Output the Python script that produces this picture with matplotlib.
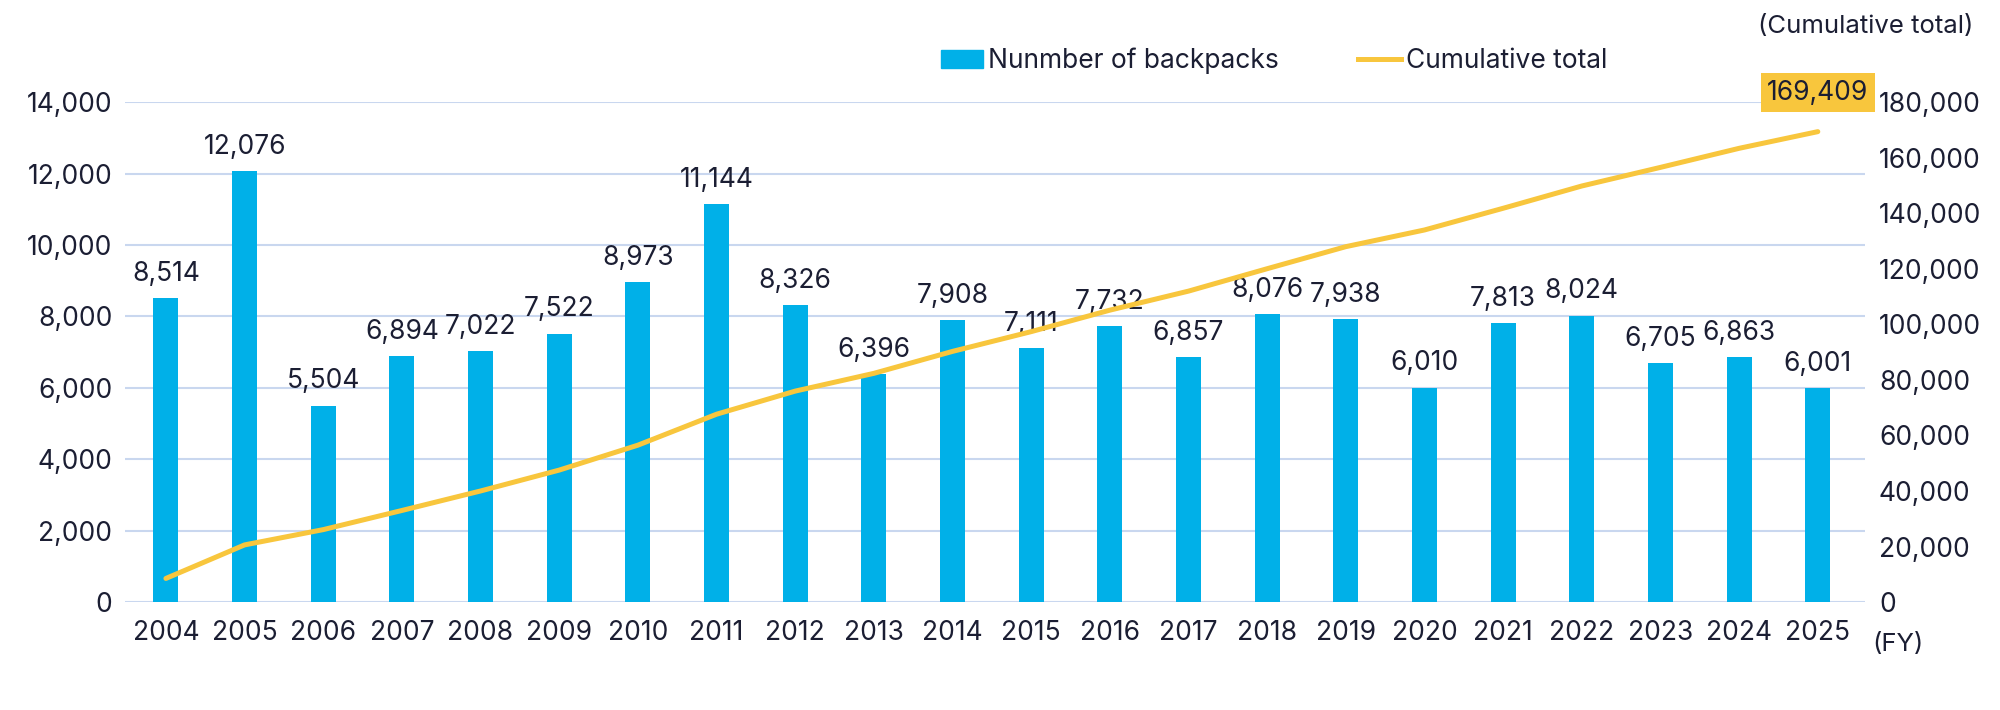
import numpy as np
import matplotlib
matplotlib.use("Agg")
import matplotlib.pyplot as plt
from matplotlib.patches import Patch
from matplotlib.lines import Line2D

# data
years = ["2004", "2005", "2006", "2007", "2008", "2009", "2010", "2011", "2012", "2013", "2014",
         "2015", "2016", "2017", "2018", "2019", "2020", "2021", "2022", "2023", "2024", "2025"]
backpacks = [8514, 12076, 5504, 6894, 7022, 7522, 8973, 11144, 8326, 6396, 7908,
             7111, 7732, 6857, 8076, 7938, 6010, 7813, 8024, 6705, 6863, 6001]
cumulative = [8514, 20590, 26094, 32988, 40010, 47532, 56505, 67649, 75975, 82371, 90279,
              97390, 105122, 111979, 120055, 127993, 134003, 141816, 149840, 156545, 163408, 169409]

BLUE = "#00B0E8"
YELLOW = "#F8C63D"
GRID = "#C9D7EF"
TXT = "#1B1E33"
FS = 19

plt.rcParams['font.family'] = ['Inter', 'DejaVu Sans']
plt.rcParams['font.size'] = FS

fig = plt.figure(figsize=(20, 7.1), dpi=100)
ax = fig.add_axes([0.0625, 0.152, 0.87, 0.704])
ax2 = ax.twinx()

x = np.arange(len(years))
ax.bar(x, backpacks, width=0.32, color=BLUE, zorder=3)
for xi, v in zip(x, backpacks):
    ax.annotate(f"{v:,}", (xi, v), xytext=(0, 8), textcoords="offset points",
                ha="center", va="bottom", color=TXT, fontsize=FS)

ax.set_ylim(0, 14000)
ax.set_yticks(np.arange(0, 14001, 2000))
ax.set_yticklabels([f"{t:,}" for t in range(0, 14001, 2000)])
ax.set_xlim(-0.52, 21.6)
ax.set_xticks(x)
ax.set_xticklabels(years)
ax.grid(axis="y", color=GRID, linewidth=1.5, zorder=0)
ax.set_axisbelow(True)
ax.tick_params(axis="y", length=0, pad=9, colors=TXT, labelsize=FS)
ax.tick_params(axis="x", length=0, pad=13, colors=TXT, labelsize=FS)

ax2.plot(x, cumulative, color=YELLOW, linewidth=3.6, solid_capstyle="round", zorder=4)
ax2.set_ylim(0, 180000)
ax2.set_yticks(np.arange(0, 180001, 20000))
ax2.set_yticklabels([f"{t:,}" for t in range(0, 180001, 20000)])
ax2.tick_params(axis="y", length=0, pad=10, colors=TXT, labelsize=FS)

for a in (ax, ax2):
    for s in a.spines.values():
        s.set_visible(False)

ax2.annotate(f"{cumulative[-1]:,}", (x[-1], cumulative[-1]), xytext=(0, 28),
             textcoords="offset points", ha="center", va="center", color=TXT, fontsize=FS,
             bbox=dict(boxstyle="square,pad=0.25", fc=YELLOW, ec="none"), zorder=6)

fig.text(0.879, 0.963, "(Cumulative total)", ha="left", va="center", color=TXT, fontsize=FS - 0.5)
fig.text(0.936, 0.092, "(FY)", ha="left", va="center", color=TXT, fontsize=FS - 0.5)

handles = [Patch(color=BLUE), Line2D([0], [0], color=YELLOW, linewidth=3.6)]
fig.legend(handles, ["Nunmber of backpacks", "Cumulative total"], loc="center",
           bbox_to_anchor=(0.637, 0.914), ncol=2, frameon=False, fontsize=FS,
           handlelength=1.6, handletextpad=0.2, columnspacing=3.0, labelcolor=TXT)

fig.savefig("out.png", dpi=100)
